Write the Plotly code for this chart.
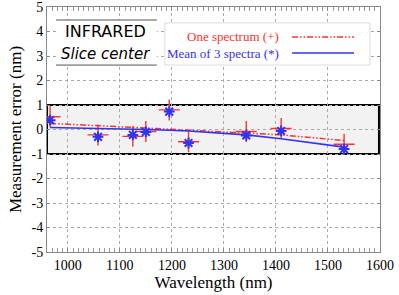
import plotly.graph_objects as go

# Data
wavelength = [966, 1058, 1125, 1150, 1195, 1232, 1343, 1410, 1531]
one_spectrum = [0.52, -0.22, -0.28, -0.08, 0.80, -0.50, -0.08, 0.04, -0.60]
mean_3_spectra = [0.38, -0.30, -0.22, -0.10, 0.73, -0.55, -0.24, -0.06, -0.80]
one_spectrum_fit = [0.25, 0.17, 0.10, 0.06, 0.01, -0.03, -0.14, -0.22, -0.45]
mean_3_spectra_fit = [0.08, 0.05, 0.02, 0.0, -0.03, -0.06, -0.22, -0.38, -0.72]

x_ticks = [1000, 1100, 1200, 1300, 1400, 1500, 1600]
y_ticks = [-5, -4, -3, -2, -1, 0, 1, 2, 3, 4, 5]
y_tick_labels = [str(v) for v in y_ticks]

RED = "rgb(255,50,50)"
BLUE = "rgb(50,50,245)"
SERIF = "Liberation Serif"

fig = go.Figure()

fig.add_trace(go.Scatter(x=wavelength, y=one_spectrum_fit, mode="lines",
                         line=dict(color=RED, width=1.5, dash="6px,2px,1.5px,2px,1.5px,2px"),
                         showlegend=False))
fig.add_trace(go.Scatter(x=wavelength, y=one_spectrum, mode="markers",
                         marker=dict(symbol="cross-thin-open", size=15, color=RED,
                                     line=dict(color=RED, width=1.4)),
                         showlegend=False))
fig.add_trace(go.Scatter(x=wavelength, y=mean_3_spectra_fit, mode="lines",
                         line=dict(color=BLUE, width=1.6), showlegend=False))
fig.add_trace(go.Scatter(x=wavelength, y=mean_3_spectra, mode="markers",
                         marker=dict(symbol="asterisk-open", size=9, color=BLUE,
                                     line=dict(color=BLUE, width=2)),
                         showlegend=False))

# shaded +/-1 nm band
fig.add_shape(type="rect", xref="x", yref="y", x0=960, x1=1598, y0=-1, y1=1,
              fillcolor="#f2f2f2", line=dict(color="black", width=2), layer="below")

# Manual legend box
fig.add_shape(type="rect", xref="paper", yref="paper", x0=0.354, x1=0.970, y0=0.763, y1=0.935,
              fillcolor="white", line=dict(color="#dddddd", width=1), layer="above")
fig.add_shape(type="line", xref="paper", yref="paper", x0=0.736, x1=0.922, y0=0.878, y1=0.878,
              line=dict(color=RED, width=1.5, dash="6px,2px,1.5px,2px,1.5px,2px"))
fig.add_shape(type="line", xref="paper", yref="paper", x0=0.736, x1=0.922, y0=0.812, y1=0.812,
              line=dict(color=BLUE, width=1.6))
fig.add_annotation(xref="paper", yref="paper", x=0.703, y=0.878, xanchor="right", yanchor="middle",
                   text="One spectrum (+)", showarrow=False,
                   font=dict(family=SERIF, size=13, color=RED))
fig.add_annotation(xref="paper", yref="paper", x=0.703, y=0.812, xanchor="right", yanchor="middle",
                   text="Mean of 3 spectra (*)", showarrow=False,
                   font=dict(family=SERIF, size=13, color=BLUE))

# Title box top left
fig.add_shape(type="rect", xref="paper", yref="paper", x0=0.027, x1=0.330, y0=0.763, y1=0.947,
              fillcolor="white", line=dict(width=0), layer="above")
for yy in (0.947, 0.763):
    fig.add_shape(type="line", xref="paper", yref="paper", x0=0.027, x1=0.330, y0=yy, y1=yy,
                  line=dict(color="#555555", width=1))
fig.add_annotation(xref="paper", yref="paper", x=0.177, y=0.898, xanchor="center", yanchor="middle",
                   text="INFRARED", showarrow=False,
                   font=dict(family="DejaVu Sans", size=16, color="black"))
fig.add_annotation(xref="paper", yref="paper", x=0.177, y=0.808, xanchor="center", yanchor="middle",
                   text="<i>Slice center</i>", showarrow=False,
                   font=dict(family="DejaVu Sans", size=15, color="black"))

fig.update_xaxes(range=[960, 1600], tickvals=x_ticks, ticks="inside", ticklen=4,
                 tickcolor="#888888", showline=True, linecolor="#888888", linewidth=1, mirror="ticks",
                 showgrid=True, gridcolor="#aaaaaa", griddash="dot", gridwidth=1, zeroline=False,
                 minor=dict(dtick=10, ticks="inside", ticklen=4, tickcolor="#999999", showgrid=False),
                 tickfont=dict(family=SERIF, size=14, color="black"), ticklabeloverflow="allow",
                 title=dict(text="Wavelength (nm)", font=dict(family=SERIF, size=17, color="black"),
                            standoff=4))
fig.update_yaxes(range=[-5, 5], tickvals=y_ticks, ticktext=y_tick_labels, ticks="inside", ticklen=3,
                 tickcolor="#888888", showline=True, linecolor="#888888", linewidth=1, mirror="ticks",
                 showgrid=True, gridcolor="#aaaaaa", griddash="dot", gridwidth=1, zeroline=False,
                 tickfont=dict(family=SERIF, size=14, color="black"), ticklabeloverflow="allow",
                 title=dict(text="Measurement error (nm)", font=dict(family=SERIF, size=17, color="black"),
                            standoff=5))

fig.update_layout(width=399, height=295, margin=dict(l=47, r=19, t=7, b=43, autoexpand=False),
                  plot_bgcolor="white", paper_bgcolor="white")

fig.write_html("out.html", config={"displayModeBar": False},
               post_script="document.body.style.margin='0';document.body.style.overflow='hidden';")
